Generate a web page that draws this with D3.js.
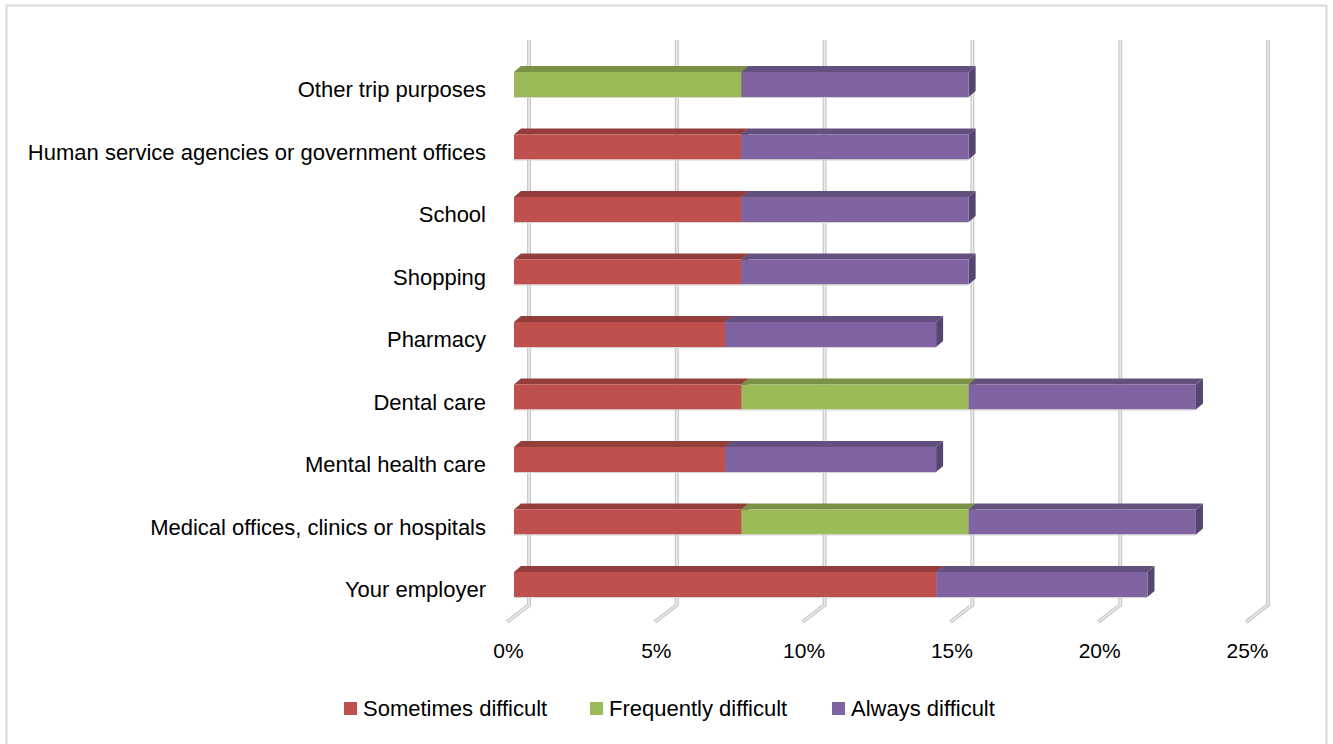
<!DOCTYPE html>
<html>
<head>
<meta charset="utf-8">
<script src="https://cdn.jsdelivr.net/npm/d3@7"></script>
<style>
  html, body { margin: 0; padding: 0; background: #fff; }
  svg { display: block; font-family: "Liberation Sans", Arial, sans-serif; }
</style>
</head>
<body>
<svg id="chart" width="1333" height="744"></svg>
<script>
// ---- data (percent) ----
const categories = [
  "Other trip purposes",
  "Human service agencies or government offices",
  "School",
  "Shopping",
  "Pharmacy",
  "Dental care",
  "Mental health care",
  "Medical offices, clinics or hospitals",
  "Your employer"
];
const seriesNames = ["Sometimes difficult", "Frequently difficult", "Always difficult"];
const sometimes  = [0,    7.69, 7.69, 7.69, 7.14, 7.69, 7.14, 7.69, 14.29];
const frequently = [7.69, 0,    0,    0,    0,    7.69, 0,    7.69, 0];
const always     = [7.69, 7.69, 7.69, 7.69, 7.14, 7.69, 7.14, 7.69, 7.14];
const tickValues = [0, 5, 10, 15, 20, 25];

const frontColors = ["#c0504d", "#9bbb59", "#8064a2"];
const topColors   = ["#943e3b", "#7a9147", "#64507f"];
const sideColors  = ["#7d3431", "#677c3b", "#564471"];

const svg = d3.select("#chart");

// outer border
svg.append("rect")
  .attr("x", 6.5).attr("y", 5.5).attr("width", 1320).attr("height", 742)
  .attr("fill", "#fff").attr("stroke", "#d9d9d9").attr("stroke-width", 2);

// scales
const x = d3.scaleLinear().domain([0, 25]).range([514, 514 + 739]);
const y = d3.scaleBand().domain(categories).range([53.25, 615.75])
  .paddingInner(0.6).paddingOuter(0.3);

const DX = 7, DY = -6;          // bar depth
const BACK_DX = 15;             // back wall offset
const gridTop = 40, gridBottom = 605, floorDX = -22, floorDY = 17;

// gridlines (3D: vertical on back wall + floor diagonal)
const grid = svg.append("g");
tickValues.forEach(v => {
  const xb = x(v) + BACK_DX;
  const d = `M${xb},${gridTop} V${gridBottom} L${xb + floorDX},${gridBottom + floorDY}`;
  grid.append("path").attr("d", d).attr("fill", "none")
    .attr("stroke", "#c9c9c9").attr("stroke-width", 4).attr("stroke-linejoin", "round");
  grid.append("path").attr("d", d).attr("fill", "none")
    .attr("stroke", "#ededed").attr("stroke-width", 1.5).attr("stroke-linejoin", "round");
});

// stacked data
const rows = categories.map((c, i) => ({
  cat: c, s0: sometimes[i], s1: frequently[i], s2: always[i]
}));
const stack = d3.stack().keys(["s0", "s1", "s2"]);
const stacked = stack(rows);

const barsG = svg.append("g");
categories.forEach((c, ci) => {
  const g = barsG.append("g");
  const top = y(c), h = y.bandwidth();
  stacked.forEach((layer, si) => {
    const seg = layer[ci];
    if (seg[1] - seg[0] <= 0) return;
    const x0 = x(seg[0]), x1 = x(seg[1]);
    // side face
    g.append("path")
      .attr("d", `M${x1},${top} L${x1 + DX},${top + DY} L${x1 + DX},${top + h + DY} L${x1},${top + h} Z`)
      .attr("fill", sideColors[si]);
    // top face
    g.append("path")
      .attr("d", `M${x0},${top} L${x0 + DX},${top + DY} L${x1 + DX},${top + DY} L${x1},${top} Z`)
      .attr("fill", topColors[si]);
    // front face
    g.append("rect")
      .attr("x", x0).attr("y", top).attr("width", x1 - x0).attr("height", h)
      .attr("fill", frontColors[si]);
  });
  // faint outline below bar
  const total = stacked[2][ci][1];
  g.append("line")
    .attr("x1", x(0)).attr("x2", x(total)).attr("y1", top + h + 0.5).attr("y2", top + h + 0.5)
    .attr("stroke", "#d4d4d4").attr("stroke-width", 1);
});

// category labels
svg.append("g").selectAll("text").data(categories).join("text")
  .attr("x", 486)
  .attr("y", d => y(d) + y.bandwidth() / 2 + 5)
  .attr("text-anchor", "end")
  .attr("dominant-baseline", "central")
  .attr("font-size", 22)
  .attr("fill", "#000")
  .text(d => d);

// x axis labels
const axis = d3.axisBottom(x).tickValues(tickValues).tickSize(0).tickPadding(0)
  .tickFormat(d => d + "%");
const axG = svg.append("g").attr("transform", `translate(-6, 658)`).call(axis);
axG.select(".domain").remove();
axG.selectAll("text")
  .attr("y", 0).attr("dy", 0)
  .attr("font-size", 21)
  .attr("font-family", "Liberation Sans, Arial, sans-serif")
  .attr("fill", "#000");

// legend
const legendX = [344, 590, 832];
const lg = svg.append("g");
seriesNames.forEach((n, i) => {
  lg.append("rect").attr("x", legendX[i]).attr("y", 702).attr("width", 13).attr("height", 13)
    .attr("fill", frontColors[i]);
  lg.append("text").attr("x", legendX[i] + 19).attr("y", 716)
    .attr("font-size", 22).attr("fill", "#000").text(n);
});
</script>
</body>
</html>
